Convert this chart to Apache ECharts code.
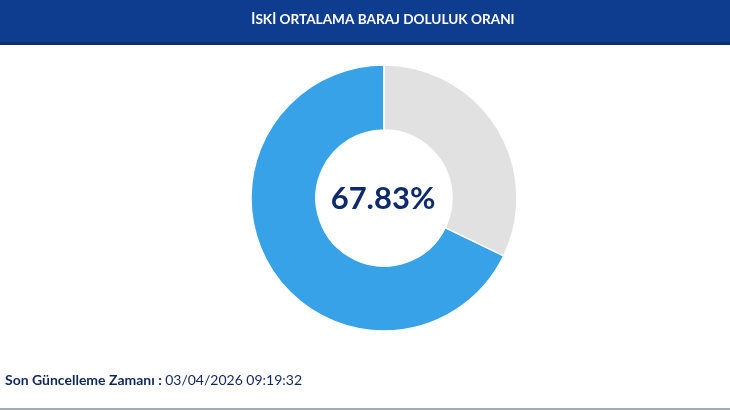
<!DOCTYPE html>
<html>
<head>
<meta charset="utf-8">
<script src="https://cdn.jsdelivr.net/npm/echarts@6/dist/echarts.min.js"></script>
<style>
html,body{margin:0;padding:0;background:#fff;}
#c{width:730px;height:410px;}
</style>
</head>
<body>
<div id="c"></div>
<script>
var titleText = 'İSKİ ORTALAMA BARAJ DOLULUK ORANI';
var categories = ['Dolu', 'Boş'];
var values = [67.83, 32.17];
var colors = ['#37a2e8', '#e1e1e1'];
var updateLabel = 'Son Güncelleme Zamanı :';
var updateValue = '03/04/2026 09:19:32';

var chart = echarts.init(document.getElementById('c'), null, {renderer: 'canvas'});
chart.setOption({
  animation: false,
  backgroundColor: '#ffffff',
  graphic: [
    {type: 'rect', shape: {x: 0, y: 0, width: 730, height: 45}, style: {fill: '#0e3c8f'}, z: 1},
    {type: 'rect', shape: {x: 0, y: 42, width: 730, height: 3}, style: {fill: '#0a2f70'}, z: 2},
    {type: 'text', x: 383, y: 20, style: {text: titleText, fill: '#ffffff', font: 'bold 13.6px Lato', textAlign: 'center', textVerticalAlign: 'middle'}, z: 3},
    {type: 'text', x: 383, y: 199, style: {text: values[0].toFixed(2) + '%', fill: '#0d2b6c', font: 'bold 31px Lato', textAlign: 'center', textVerticalAlign: 'middle'}, z: 10},
    {type: 'text', x: 5, y: 380, style: {text: '{b|' + updateLabel + '} {r|' + updateValue + '}', textVerticalAlign: 'middle',
      rich: {b: {font: 'bold 14px Lato', fill: '#10275c'}, r: {font: '14px Lato', fill: '#10275c'}}}, z: 3},
    {type: 'rect', shape: {x: 0, y: 408, width: 730, height: 2}, style: {fill: '#a3abb3'}, z: 3}
  ],
  series: [{
    type: 'pie',
    center: [384, 198],
    radius: [68, 133],
    startAngle: 90,
    clockwise: false,
    label: {show: false},
    labelLine: {show: false},
    silent: true,
    itemStyle: {borderColor: '#ffffff', borderWidth: 1.5},
    data: categories.map(function (c, i) {
      return {name: c, value: values[i], itemStyle: {color: colors[i]}};
    })
  }]
});
</script>
</body>
</html>
